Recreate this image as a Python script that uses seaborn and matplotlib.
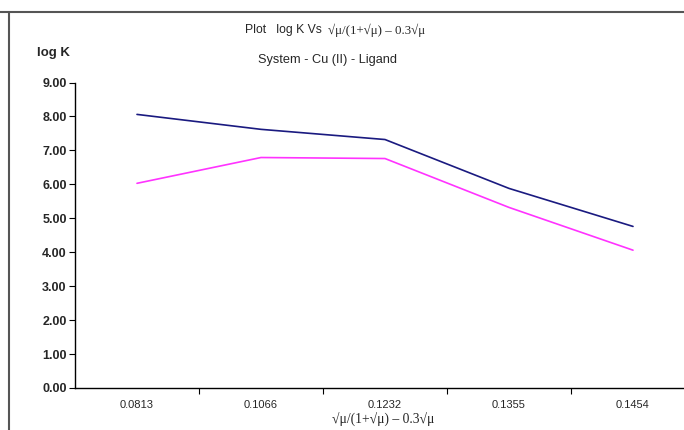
import matplotlib
matplotlib.use("Agg")
import matplotlib.pyplot as plt
from matplotlib.lines import Line2D
import seaborn as sns
import pandas as pd

categories = ["0.0813", "0.1066", "0.1232", "0.1355", "0.1454"]
series_a = [8.06, 7.62, 7.32, 5.88, 4.76]   # navy curve
series_b = [6.03, 6.79, 6.76, 5.32, 4.06]   # magenta curve
y_ticks = [0, 1, 2, 3, 4, 5, 6, 7, 8, 9]

sns.set_theme(style="white")
plt.rcParams["font.family"] = ["Liberation Sans", "DejaVu Sans"]

df = pd.DataFrame({
    "x": categories * 2,
    "y": series_a + series_b,
    "s": ["A"] * len(categories) + ["B"] * len(categories),
})

fig = plt.figure(figsize=(6.84, 4.30), dpi=100)
ax = fig.add_axes([75 / 684, 42 / 430, 620 / 684, 305.5 / 430])

sns.lineplot(data=df, x="x", y="y", hue="s", palette={"A": "#1a1a80", "B": "#ff33ff"},
             ax=ax, legend=False, linewidth=1.2, sort=False)

ax.set_xlim(-0.5, len(categories) - 0.5)
ax.set_ylim(0, 9)
ax.set_yticks(y_ticks)
ax.set_yticklabels([f"{v:.2f}" for v in y_ticks], fontsize=9, fontweight="bold")
ax.tick_params(axis="y", direction="out", length=4, width=0.8, color="black", pad=2, left=True)

# category boundaries as major ticks, labels centred as minor ticks
ax.set_xticks([i + 0.5 for i in range(len(categories) - 1)])
ax.set_xticklabels([])
ax.set_xticks(range(len(categories)), minor=True)
ax.set_xticklabels(categories, minor=True, fontsize=8)
ax.tick_params(axis="x", which="major", direction="out", length=4, width=0.8, color="black", bottom=True)
ax.tick_params(axis="x", which="minor", length=0, pad=9)

ax.set_xlabel("")
ax.set_ylabel("")
for side in ["top", "right"]:
    ax.spines[side].set_visible(False)
for side in ["left", "bottom"]:
    ax.spines[side].set_color("black")
    ax.spines[side].set_linewidth(1.0)
ax.grid(False)

# titles
fig.text(245 / 684, 1 - 30 / 430, "Plot   log K Vs", fontsize=8.8, ha="left", va="center")
fig.text(328 / 684, 1 - 30 / 430, "√μ/(1+√μ) – 0.3√μ", fontsize=9.3, ha="left", va="center",
         family=["Liberation Serif", "DejaVu Serif"])
fig.text(328 / 684, 1 - 60 / 430, "System - Cu (II) - Ligand", fontsize=9.2, ha="center", va="center")
fig.text(53 / 684, 1 - 53 / 430, "log K", fontsize=9.5, fontweight="bold", ha="center", va="center")
fig.text(383 / 684, 1 - 420 / 430, "√μ/(1+√μ) – 0.3√μ", fontsize=9.8, ha="center", va="center",
         family=["Liberation Serif", "DejaVu Serif"])

# chart frame border (top and left)
fig.add_artist(Line2D([0, 1], [1 - 12 / 430, 1 - 12 / 430], transform=fig.transFigure,
                      color="#555555", linewidth=1.5))
fig.add_artist(Line2D([9 / 684, 9 / 684], [0, 1 - 12 / 430], transform=fig.transFigure,
                      color="#555555", linewidth=1.5))

fig.savefig("out.png", dpi=100)
